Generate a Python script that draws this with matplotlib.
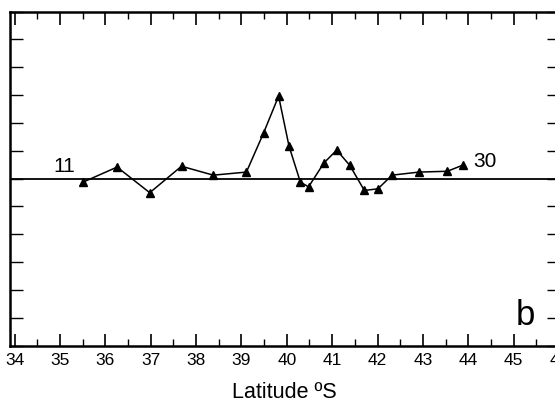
import matplotlib.pyplot as plt
from matplotlib.ticker import MultipleLocator

plt.rcParams['font.family'] = ['Liberation Sans', 'DejaVu Sans']

# station latitudes (deg S) and anomaly values
latitude = [35.51, 36.26, 36.98, 37.68, 38.38, 39.11, 39.49, 39.82, 40.05, 40.30,
            40.48, 40.82, 41.10, 41.39, 41.71, 42.01, 42.32, 42.91, 43.54, 43.88]
value = [-0.13, 0.41, -0.51, 0.44, 0.12, 0.23, 1.64, 2.96, 1.16, -0.13,
         -0.30, 0.56, 1.02, 0.47, -0.43, -0.37, 0.12, 0.23, 0.26, 0.48]
first_station = "11"
last_station = "30"
xticks = list(range(34, 47))

fig = plt.figure(figsize=(5.55, 4.06), dpi=100)
ax = fig.add_axes([10 / 555, 59.5 / 406, 549 / 555, 334 / 406])

ax.axhline(0, color='black', linewidth=1.3)
ax.plot(latitude, value, color='black', linewidth=1.1,
        marker='^', markersize=5.5, markerfacecolor='black')

ax.text(latitude[0] - 0.18, 0.47, first_station, fontsize=15, ha='right', va='center')
ax.text(latitude[-1] + 0.22, 0.63, last_station, fontsize=15, ha='left', va='center')
ax.text(45.25, -4.9, "b", fontsize=25, ha='center', va='center')

ax.set_xlim(33.9, 46.0)
ax.set_ylim(-6, 6)
ax.set_xticks(xticks)
ax.set_xticklabels([str(t) for t in xticks], fontsize=12.5)
ax.xaxis.set_minor_locator(MultipleLocator(0.5))
ax.yaxis.set_major_locator(MultipleLocator(1))
ax.set_yticklabels([])
ax.tick_params(axis='x', which='major', direction='in', length=9, width=1.2,
               top=True, pad=5)
ax.tick_params(axis='x', which='minor', direction='in', length=5, width=1.0, top=True)
ax.tick_params(axis='y', which='major', direction='in', length=9, width=1.0,
               right=True, labelleft=False)
for s in ax.spines.values():
    s.set_linewidth(1.8)

ax.set_xlabel("Latitude ºS", fontsize=15.5, labelpad=10)

fig.savefig("out.png", dpi=100)
